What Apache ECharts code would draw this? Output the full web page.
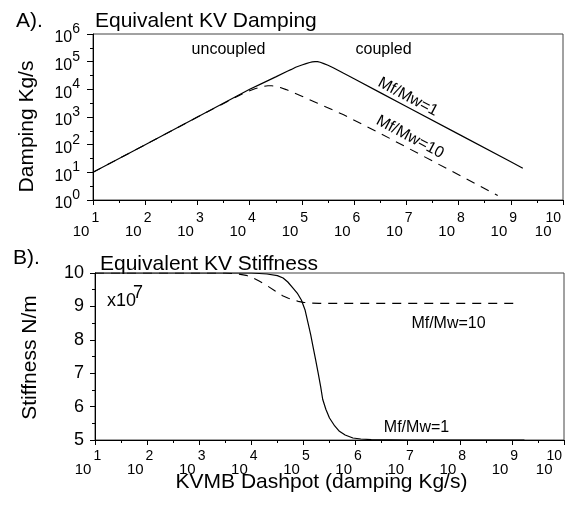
<!DOCTYPE html>
<html>
<head>
<meta charset="utf-8">
<script src="https://cdn.jsdelivr.net/npm/echarts@6/dist/echarts.min.js"></script>
<style>
html, body { margin: 0; padding: 0; background: #fff; }
#main { width: 569px; height: 510px; }
</style>
</head>
<body>
<div id="main"></div>
<script>
// A) equivalent KV damping (log-log)
var dampX1  = [10, 100, 1e3, 1e4, 1.58e4, 3.16e4, 5.25e4, 6.31e4, 7.59e4, 1e5, 1.2e5, 1.41e5, 1.58e5, 1.78e5, 2e5, 2.24e5, 2.63e5, 3.16e5, 3.98e5, 5.01e5, 6.31e5, 1e6, 3.16e6, 1e7, 1e8, 1e9, 1.7e9];
var dampY1  = [10, 100, 1e3, 1e4, 1.51e4, 2.82e4, 4.5e4, 5.25e4, 6.31e4, 7.59e4, 8.51e4, 9.33e4, 9.77e4, 1e5, 1e5, 9.55e4, 8.51e4, 7.41e4, 6.03e4, 4.79e4, 3.8e4, 2.4e4, 7.59e3, 2.4e3, 240, 24, 14.1];
var dampX10 = [10, 100, 1e3, 6.31e3, 7.94e3, 1e4, 1.26e4, 1.58e4, 1.91e4, 2.24e4, 2.63e4, 3.16e4, 3.98e4, 5.01e4, 7.08e4, 1e5, 2e5, 6.31e5, 3.16e6, 3.16e7, 5.62e8];
var dampY10 = [10, 100, 1e3, 6.03e3, 7.41e3, 8.91e3, 1.05e4, 1.2e4, 1.29e4, 1.35e4, 1.35e4, 1.29e4, 1.15e4, 9.77e3, 7.41e3, 5.62e3, 3.16e3, 1.2e3, 257, 25.7, 1.45];

// B) equivalent KV stiffness (x10^7 N/m)
var stiffX1  = [10, 1e3, 1e4, 2e4, 3.16e4, 4.07e4, 5.01e4, 6.31e4, 7.59e4, 9.12e4, 1.07e5, 1.23e5, 1.38e5, 1.51e5, 1.7e5, 1.91e5, 2.14e5, 2.34e5, 2.69e5, 3.16e5, 3.98e5, 4.9e5, 6.31e5, 8.91e5, 1.26e6, 2e6, 1e7, 1.74e9];
var stiffY1  = [10, 10, 10, 9.97, 9.92, 9.85, 9.73, 9.55, 9.4, 9.19, 8.9, 8.49, 8.15, 7.83, 7.43, 7.02, 6.6, 6.22, 5.92, 5.66, 5.42, 5.26, 5.15, 5.06, 5.03, 5.01, 5, 5];
var stiffX10 = [10, 3.16e3, 5.62e3, 7.94e3, 1e4, 1.41e4, 2e4, 2.82e4, 3.98e4, 5.01e4, 6.31e4, 7.94e4, 1e5, 1.41e5, 2e5, 1.41e9];
var stiffY10 = [10, 10, 9.97, 9.93, 9.88, 9.76, 9.62, 9.47, 9.32, 9.25, 9.2, 9.15, 9.12, 9.1, 9.09, 9.09];

var FONT = 'Liberation Sans, Arial, Helvetica, sans-serif';

function pairs(xs, ys) {
    return xs.map(function (x, i) { return [x, ys[i]]; });
}

function xExpLabel(v) {
    var n = Math.round(Math.log10(v));
    if (n === 10) return '{b|10}{e10|10}';
    return '{b|10}{e|' + n + '}';
}
function yExpLabel(v) {
    var n = Math.round(Math.log10(v));
    return '{b|10}{e|' + n + '}';
}

var xRich = {
    b: { fontSize: 15, fontFamily: FONT, color: '#000' },
    e: { fontSize: 14, fontFamily: FONT, color: '#000', padding: [0, 14, 28, 2] },
    e10: { fontSize: 14, fontFamily: FONT, color: '#000', padding: [0, 30, 28, -6] }
};
var yRich = {
    b: { fontSize: 16, fontFamily: FONT, color: '#000', padding: [8, 0, 0, 0] },
    e: { fontSize: 14, fontFamily: FONT, color: '#000', padding: [0, 0, 10, 0] }
};

function logX(grid, margin) {
    return {
        type: 'log', logBase: 10, gridIndex: grid, min: 10, max: 1e10, splitNumber: 9,
        position: 'bottom',
        axisLine: { onZero: false, lineStyle: { color: '#000', width: 1 } },
        axisTick: { inside: false, length: 5, lineStyle: { color: '#000' } },
        axisLabel: { formatter: xExpLabel, rich: xRich, margin: margin, showMinLabel: true, showMaxLabel: true },
        splitLine: { show: false }
    };
}
// half-decade tick marks, drawn on the exponent scale
function minorX(grid) {
    return {
        type: 'value', gridIndex: grid, min: 1, max: 10, interval: 0.5, position: 'bottom',
        axisLine: { show: false, onZero: false },
        axisTick: { length: 3, lineStyle: { color: '#000' } },
        axisLabel: { show: false },
        splitLine: { show: false }
    };
}

var chart = echarts.init(document.getElementById('main'), null, { renderer: 'canvas' });

var option = {
    animation: false,
    backgroundColor: '#fff',
    grid: [
        { left: 93, top: 34, width: 470, height: 166, show: true, borderColor: '#444', borderWidth: 1, outerBoundsMode: 'none' },
        { left: 95, top: 273, width: 469, height: 167, show: true, borderColor: '#444', borderWidth: 1, outerBoundsMode: 'none' }
    ],
    xAxis: [logX(0, 11), logX(1, 9), minorX(0), minorX(1)],
    yAxis: [
        {
            type: 'log', logBase: 10, gridIndex: 0, min: 1, max: 1e6, splitNumber: 6, position: 'left',
            axisLine: { onZero: false, lineStyle: { color: '#000' } },
            axisTick: { length: 6, lineStyle: { color: '#000' } },
            axisLabel: { formatter: yExpLabel, rich: yRich, margin: 13, showMinLabel: true, showMaxLabel: true },
            splitLine: { show: false }
        },
        {
            type: 'value', gridIndex: 1, min: 5, max: 10, interval: 1, position: 'left',
            axisLine: { onZero: false, lineStyle: { color: '#000' } },
            axisTick: { length: 5, lineStyle: { color: '#000' } },
            minorTick: { show: true, splitNumber: 2, length: 3, lineStyle: { color: '#000' } },
            axisLabel: { fontSize: 18, fontFamily: FONT, color: '#000', margin: 11, showMinLabel: true, showMaxLabel: true },
            splitLine: { show: false }
        },
        {
            type: 'value', gridIndex: 0, min: 0, max: 6, interval: 0.5, position: 'left',
            axisLine: { show: false, onZero: false },
            axisTick: { length: 3, lineStyle: { color: '#000' } },
            axisLabel: { show: false },
            splitLine: { show: false }
        }
    ],
    series: [
        {
            name: 'Mf/Mw=1', type: 'line', xAxisIndex: 0, yAxisIndex: 0,
            showSymbol: false, lineStyle: { color: '#000', width: 1.2 },
            data: pairs(dampX1, dampY1)
        },
        {
            name: 'Mf/Mw=10', type: 'line', xAxisIndex: 0, yAxisIndex: 0,
            showSymbol: false, lineStyle: { color: '#000', width: 1.1, type: [9, 7] },
            data: pairs(dampX10, dampY10)
        },
        {
            name: 'Mf/Mw=1', type: 'line', xAxisIndex: 1, yAxisIndex: 1,
            showSymbol: false, lineStyle: { color: '#000', width: 1.2 },
            data: pairs(stiffX1, stiffY1)
        },
        {
            name: 'Mf/Mw=10', type: 'line', xAxisIndex: 1, yAxisIndex: 1,
            showSymbol: false, lineStyle: { color: '#000', width: 1.1, type: [9, 7] },
            data: pairs(stiffX10, stiffY10)
        }
    ],
    graphic: [
        { type: 'text', x: 16, y: 21.5, style: { text: 'A).', font: '21px ' + FONT, fill: '#000', align: 'left', verticalAlign: 'middle' } },
        { type: 'text', x: 95, y: 21.5, style: { text: 'Equivalent KV Damping', font: '21px ' + FONT, fill: '#000', align: 'left', verticalAlign: 'middle' } },
        { type: 'text', x: 13, y: 258.5, style: { text: 'B).', font: '21px ' + FONT, fill: '#000', align: 'left', verticalAlign: 'middle' } },
        { type: 'text', x: 100, y: 264.5, style: { text: 'Equivalent KV Stiffness', font: '21px ' + FONT, fill: '#000', align: 'left', verticalAlign: 'middle' } },
        { type: 'text', x: 27.5, y: 126.5, rotation: Math.PI / 2, style: { text: 'Damping Kg/s', font: '21px ' + FONT, fill: '#000', align: 'center', verticalAlign: 'middle' } },
        { type: 'text', x: 30.5, y: 357.5, rotation: Math.PI / 2, style: { text: 'Stiffness N/m', font: '21px ' + FONT, fill: '#000', align: 'center', verticalAlign: 'middle' } },
        { type: 'text', x: 321.5, y: 482.5, style: { text: 'KVMB Dashpot (damping Kg/s)', font: '21px ' + FONT, fill: '#000', align: 'center', verticalAlign: 'middle' } },
        { type: 'text', x: 228.5, y: 49.5, style: { text: 'uncoupled', font: '16px ' + FONT, fill: '#000', align: 'center', verticalAlign: 'middle' } },
        { type: 'text', x: 383.5, y: 49.5, style: { text: 'coupled', font: '16px ' + FONT, fill: '#000', align: 'center', verticalAlign: 'middle' } },
        { type: 'text', x: 408, y: 97, rotation: -28 * Math.PI / 180, style: { text: 'Mf/Mw=1', font: '16px ' + FONT, fill: '#000', align: 'center', verticalAlign: 'middle' } },
        { type: 'text', x: 410, y: 137, rotation: -28 * Math.PI / 180, style: { text: 'Mf/Mw=10', font: '16px ' + FONT, fill: '#000', align: 'center', verticalAlign: 'middle' } },
        { type: 'text', x: 448.5, y: 324, style: { text: 'Mf/Mw=10', font: '16px ' + FONT, fill: '#000', align: 'center', verticalAlign: 'middle' } },
        { type: 'text', x: 416.5, y: 427.5, style: { text: 'Mf/Mw=1', font: '16px ' + FONT, fill: '#000', align: 'center', verticalAlign: 'middle' } },
        {
            type: 'text', x: 107, y: 301,
            style: {
                text: '{a|x10}{s|7}', align: 'left', verticalAlign: 'middle', fill: '#000',
                rich: {
                    a: { fontSize: 18, fontFamily: FONT, fill: '#000' },
                    s: { fontSize: 18, fontFamily: FONT, fill: '#000', padding: [0, 0, 15, -3] }
                }
            }
        }
    ]
};

chart.setOption(option);
window.addEventListener('resize', function () {
    chart.resize();
});
</script>
</body>
</html>
